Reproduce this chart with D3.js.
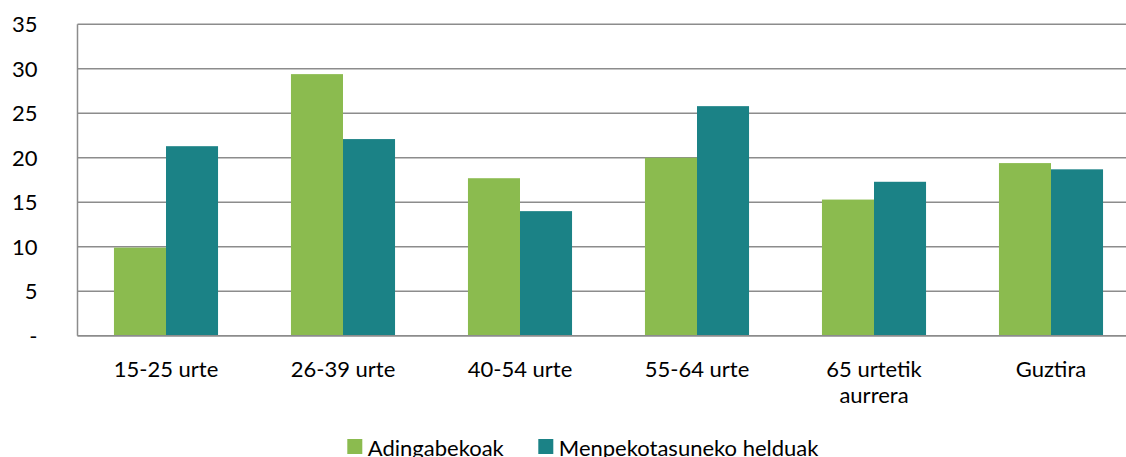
<!DOCTYPE html>
<html><head><meta charset="utf-8">
<script src="https://cdn.jsdelivr.net/npm/d3@7"></script>
<style>html,body{margin:0;padding:0;background:#fff;overflow:hidden}</style>
</head><body>
<script>
const categories = [["15-25 urte"],["26-39 urte"],["40-54 urte"],["55-64 urte"],["65 urtetik","aurrera"],["Guztira"]];
const seriesNames = ["Adingabekoak","Menpekotasuneko helduak"];
const adingabekoak = [9.9, 29.4, 17.7, 20.0, 15.3, 19.4];
const menpekotasuneko = [21.3, 22.1, 14.0, 25.8, 17.3, 18.7];
const yTicks = [0,5,10,15,20,25,30,35];
const colors = ["#8BBB4F","#1B8286"];

const W=1126,H=457;
const svg=d3.select("body").append("svg").attr("width",W).attr("height",H);
const font="Lato, 'Open Sans', sans-serif";
const x0=77.5, x1=1139.5, yTop=24.3, yBot=335.7;
const x=d3.scaleBand().domain(d3.range(categories.length)).range([x0,x1]).paddingInner(0.412).paddingOuter(0.206);
const xs=d3.scaleBand().domain([0,1]).range([0,x.bandwidth()]);
const y=d3.scaleLinear().domain([0,35]).range([yBot,yTop]);

// grid
svg.append("g").selectAll("line").data(yTicks).join("line")
 .attr("x1",x0).attr("x2",x1).attr("y1",d=>y(d)).attr("y2",d=>y(d))
 .attr("stroke","#8c8c8c").attr("stroke-width",1.5);
svg.append("line").attr("x1",x0).attr("x2",x0).attr("y1",yTop).attr("y2",yBot).attr("stroke","#8c8c8c").attr("stroke-width",1.5);

// y labels
svg.append("g").selectAll("text").data(yTicks).join("text")
 .attr("x",37.5).attr("y",d=>y(d)+8).attr("text-anchor","end")
 .attr("font-family",font).attr("font-size",22).attr("fill","#000")
 .text(d=>d===0?"-":d);

const series=[adingabekoak,menpekotasuneko];
series.forEach((vals,si)=>{
  svg.append("g").selectAll("rect").data(vals).join("rect")
   .attr("x",(d,i)=>x(i)+xs(si)).attr("width",xs.bandwidth())
   .attr("y",d=>y(d)).attr("height",d=>y(0)-y(d)).attr("fill",colors[si]);
});
svg.append("line").attr("x1",x0).attr("x2",x1).attr("y1",yBot).attr("y2",yBot).attr("stroke","#8c8c8c").attr("stroke-width",1.5);

// x labels
const xl=svg.append("g");
categories.forEach((lines,i)=>{
  const t=xl.append("text").attr("text-anchor","middle").attr("font-family",font).attr("font-size",22).attr("fill","#000");
  lines.forEach((l,j)=>t.append("tspan").attr("x",x(i)+x.bandwidth()/2).attr("y",376.7+j*26.7).text(l));
});

// legend
const lg=svg.append("g");
const lx=[347.3,538.3];
seriesNames.forEach((n,i)=>{
  lg.append("rect").attr("x",lx[i]).attr("y",439).attr("width",15).attr("height",15).attr("fill",colors[i]);
  lg.append("text").attr("x",lx[i]+20.5).attr("y",456).attr("font-family",font).attr("font-size",22).attr("fill","#000").text(n);
});
</script>
</body></html>
